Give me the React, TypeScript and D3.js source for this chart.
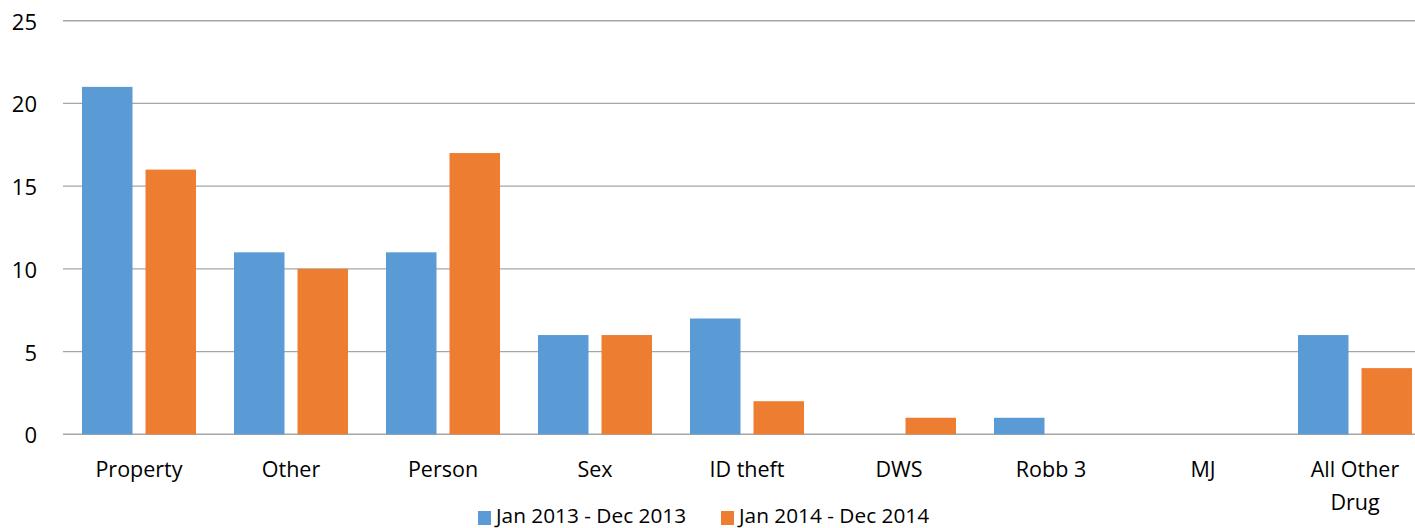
import React from "react";
import * as d3 from "d3";

const categories: string[][] = [
  ["Property"],
  ["Other"],
  ["Person"],
  ["Sex"],
  ["ID theft"],
  ["DWS"],
  ["Robb 3"],
  ["MJ"],
  ["All Other", "Drug"],
];
const seriesNames = ["Jan 2013 - Dec 2013", "Jan 2014 - Dec 2014"];
const values2013 = [21, 11, 11, 6, 7, 0, 1, 0, 6];
const values2014 = [16, 10, 17, 6, 2, 1, 0, 0, 4];
const yTicks = [0, 5, 10, 15, 20, 25];
const colors = ["#5b9bd5", "#ed7d31"];

const W = 1415;
const H = 528;
const FONT = "'Open Sans', 'Noto Sans', sans-serif";

export default function App() {
  const left = 63;
  const step = 152;
  const keys = categories.map((c) => c.join(" "));
  const x0 = d3
    .scaleBand<string>()
    .domain(keys)
    .range([left, left + step * keys.length])
    .paddingInner(0.25)
    .paddingOuter(0.125);
  const x1 = d3
    .scaleBand<string>()
    .domain(seriesNames)
    .range([0, x0.bandwidth()])
    .paddingInner(0.205)
    .paddingOuter(0);
  const y = d3.scaleLinear().domain([0, 25]).range([434.3, 20.7]);
  const series = [values2013, values2014];

  const legendItems = [
    { x: 478, name: seriesNames[0], color: colors[0] },
    { x: 721, name: seriesNames[1], color: colors[1] },
  ];

  return (
    <svg
      width={W}
      height={H}
      style={{ position: "absolute", left: 0, top: 0, background: "#fff" }}
      fontFamily={FONT}
    >
      <rect x={0} y={0} width={W} height={H} fill="#fff" />
      {yTicks.map((t) => (
        <g key={t}>
          <line
            x1={left}
            x2={W}
            y1={y(t)}
            y2={y(t)}
            stroke="#a6a6a6"
            strokeWidth={1.4}
          />
          <text
            x={37}
            y={y(t)}
            textAnchor="end"
            dominantBaseline="central"
            fontSize={22}
            fill="#000"
          >
            {t}
          </text>
        </g>
      ))}
      {keys.map((k, i) => (
        <g key={k}>
          {series.map((vals, s) =>
            vals[i] > 0 ? (
              <rect
                key={s}
                x={(x0(k) as number) + (x1(seriesNames[s]) as number)}
                y={y(vals[i])}
                width={x1.bandwidth()}
                height={y(0) - y(vals[i])}
                fill={colors[s]}
              />
            ) : null
          )}
          {categories[i].map((line, li) => (
            <text
              key={li}
              x={(x0(k) as number) + x0.bandwidth() / 2}
              y={477 + li * 33}
              textAnchor="middle"
              fontSize={21.5}
              fill="#000"
            >
              {line}
            </text>
          ))}
        </g>
      ))}
      {legendItems.map((it) => (
        <g key={it.name}>
          <rect x={it.x} y={511} width={13} height={14} fill={it.color} />
          <text x={it.x + 18} y={523} fontSize={20.8} fill="#000">
            {it.name}
          </text>
        </g>
      ))}
    </svg>
  );
}
